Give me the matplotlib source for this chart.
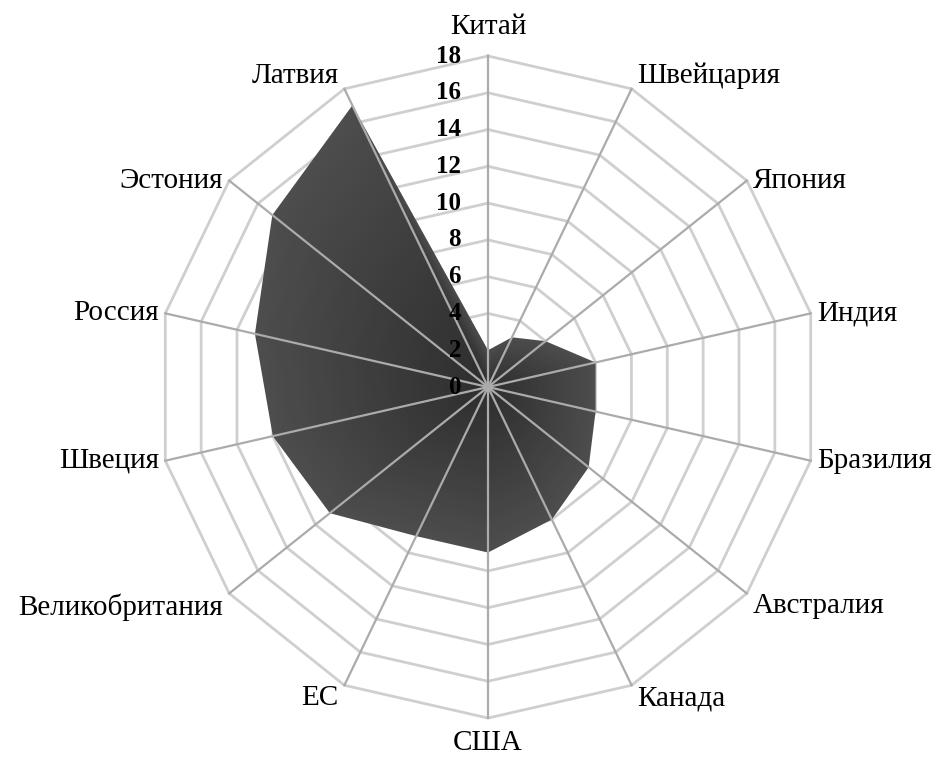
import numpy as np
import matplotlib
matplotlib.use("Agg")
import matplotlib.pyplot as plt

categories = ["Китай", "Швейцария", "Япония", "Индия", "Бразилия", "Австралия", "Канада",
              "США", "ЕС", "Великобритания", "Швеция", "Россия", "Эстония", "Латвия"]
values = [2, 3, 4, 6, 6, 7, 8, 9, 9, 11, 12, 13, 15, 17]
rings = [2, 4, 6, 8, 10, 12, 14, 16, 18]
tick_labels = [0, 2, 4, 6, 8, 10, 12, 14, 16, 18]

plt.rcParams['font.family'] = ['Liberation Serif', 'DejaVu Serif']

n = len(categories)
theta = np.arange(n) * 2 * np.pi / n
theta_c = np.append(theta, theta[0])
vals_c = np.append(values, values[0])

fig = plt.figure(figsize=(9.4, 7.62), dpi=100)
ax = fig.add_axes([0.167, 0.0577, 0.7043, 0.8688], projection='polar')
ax.set_theta_zero_location('N')
ax.set_theta_direction(-1)
ax.set_ylim(0, 18)
ax.grid(False)
ax.set_xticks([])
ax.set_yticks([])
ax.spines['polar'].set_visible(False)
ax.patch.set_visible(False)

# polygon rings
for r in rings:
    ax.plot(theta_c, [r] * (n + 1), color='#cfcfcf', lw=2, clip_on=False, zorder=1)

# gradient-ish fill: scaled copies of the data polygon
steps = 40
for i, k in enumerate(np.linspace(1, 0.02, steps)):
    c = 0x4d - (0x4d - 0x2e) * i / (steps - 1)
    col = '#%02x%02x%02x' % (int(c), int(c), int(c))
    ax.fill(theta_c, vals_c * k, color=col, lw=0, zorder=2)

# spokes on top
for t in theta:
    ax.plot([t, t], [0, 18], color='#ababab', lw=1.6, clip_on=False, zorder=3)

# radial tick labels
for v in tick_labels:
    ax.annotate(str(v), xy=(0, v), xytext=(-27, 0), textcoords='offset pixels',
                ha='right', va='center', fontsize=18, fontweight='bold', zorder=4)

# category labels
for t, name in zip(theta, categories):
    s, c = np.sin(t), np.cos(t)
    if abs(s) < 0.1:
        ha = 'center'
    elif s > 0:
        ha = 'left'
    else:
        ha = 'right'
    if c > 0.8:
        va = 'bottom'
    elif c < -0.5:
        va = 'top'
    else:
        va = 'center'
    dx = 6 * np.sign(s) if abs(s) >= 0.1 else 0
    dy = 0
    if ha == 'center':
        dy = 16 if c > 0 else -12
    ax.annotate(name, xy=(t, 18), xytext=(dx, dy), textcoords='offset pixels',
                ha=ha, va=va, fontsize=21, annotation_clip=False)

fig.savefig("out.png", dpi=100)
